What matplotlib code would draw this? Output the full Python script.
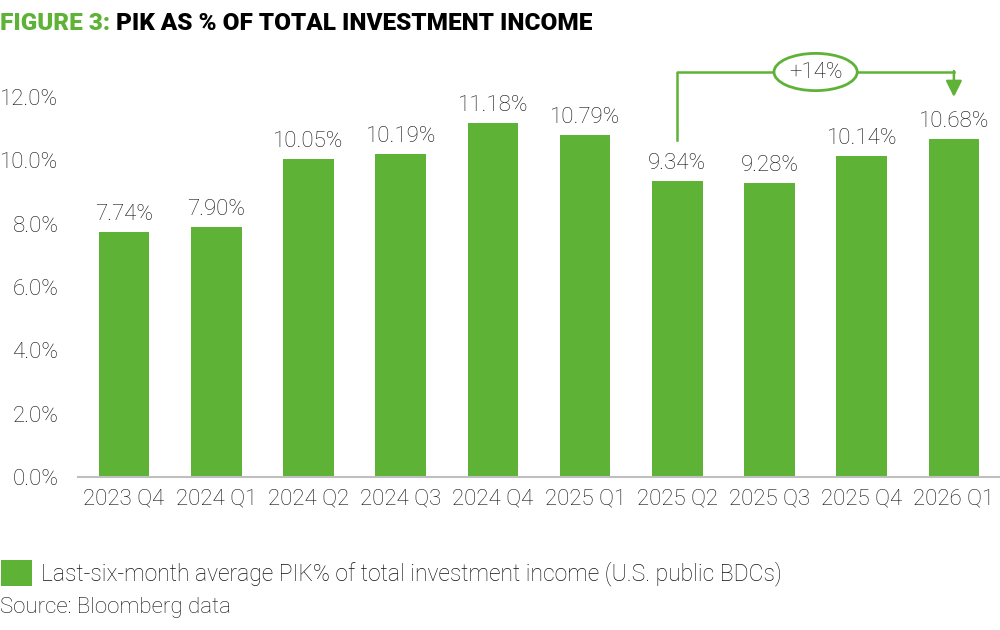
import numpy as np
import matplotlib.pyplot as plt

# chart data
quarters = ['2023 Q4', '2024 Q1', '2024 Q2', '2024 Q3', '2024 Q4',
            '2025 Q1', '2025 Q2', '2025 Q3', '2025 Q4', '2026 Q1']
pik_pct = [7.74, 7.90, 10.05, 10.19, 11.18, 10.79, 9.34, 9.28, 10.14, 10.68]
change_label = '+14%'
change_from = 6   # 2025 Q2
change_to = 9     # 2026 Q1

green = '#5eb236'
ink = '#111111'

plt.rcParams['font.family'] = ['Roboto', 'DejaVu Sans']

fig = plt.figure(figsize=(10, 6.3), dpi=100)
ax = fig.add_axes([0.078, 0.243, 0.922, 0.603])

x = np.arange(len(quarters))
bars = ax.bar(x, pik_pct, width=0.55, color=green, zorder=2)

for xi, v in zip(x, pik_pct):
    ax.annotate('%.2f%%' % v, (xi, v), xytext=(0, 5), textcoords='offset points',
                ha='center', va='bottom', fontsize=16, fontweight='light', color=ink)

ax.set_xlim(-0.5, len(quarters) - 0.5)
ax.set_ylim(0, 12)
ax.set_yticks(np.arange(0, 12.1, 2))
ax.set_yticklabels(['%.1f%%' % t for t in np.arange(0, 12.1, 2)])
ax.set_xticks(x)
ax.set_xticklabels(quarters)
ax.tick_params(axis='both', length=0, labelsize=16, labelcolor=ink)
ax.tick_params(axis='y', pad=14)
ax.tick_params(axis='x', pad=8)
for lab in ax.get_xticklabels() + ax.get_yticklabels():
    lab.set_fontweight('light')

for s in ['top', 'right', 'left']:
    ax.spines[s].set_visible(False)
ax.spines['bottom'].set_color('#bfbfbf')
ax.spines['bottom'].set_linewidth(1.5)

# change bracket
top_y = 12.79
ax.plot([change_from, change_from, change_to], [pik_pct[change_from] + 1.3, top_y, top_y],
        color=green, lw=1.8, clip_on=False, zorder=3)
ax.annotate('', xy=(change_to, 12.0), xytext=(change_to, top_y + 0.03),
            arrowprops=dict(arrowstyle='-|>', color=green, lw=1.8, mutation_scale=24,
                            shrinkA=0, shrinkB=0), annotation_clip=False)
ax.text((change_from + change_to) / 2, top_y, change_label, ha='center', va='center',
        fontsize=16, fontweight='light', color=ink, zorder=4,
        bbox=dict(boxstyle='ellipse,pad=0.12', fc='white', ec=green, lw=2))

# title
t1 = fig.text(0.0, 0.963, 'FIGURE 3:', fontsize=17.5, fontweight='black', color=green,
              ha='left', va='center')
fig.canvas.draw()
bb = t1.get_window_extent(renderer=fig.canvas.get_renderer())
fig.text(bb.x1 / fig.bbox.width + 0.006, 0.963, 'PIK AS % OF TOTAL INVESTMENT INCOME',
         fontsize=17.5, fontweight='black', color='black', ha='left', va='center')

# legend and source
fig.legend([bars], ['Last-six-month average PIK% of total investment income (U.S. public BDCs)'],
           loc='center left', bbox_to_anchor=(-0.02, 0.09), frameon=False,
           handlelength=1.35, handleheight=1.35, handletextpad=0.4,
           prop={'weight': 'light', 'size': 16.5}, labelcolor=ink)
fig.text(0.0, 0.036, 'Source: Bloomberg data', fontsize=16, fontweight='light',
         color=ink, ha='left', va='center')

fig.savefig('out.png', dpi=100)
